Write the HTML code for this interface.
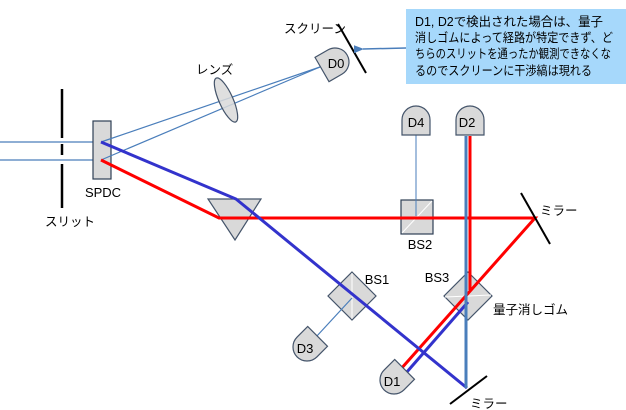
<!DOCTYPE html>
<html><head><meta charset="utf-8"><style>
html,body{margin:0;padding:0;background:#fff;}
svg{display:block;font-family:"Liberation Sans","Noto Sans CJK JP",sans-serif;}
</style></head><body>
<svg width="626" height="410" viewBox="0 0 626 410" xmlns="http://www.w3.org/2000/svg">
<defs>
<path id="det" d="M-14,15 L14,15 L14,0 A14,14 0 0 0 -14,0 Z" fill="#d9d9d9" stroke="#44546a" stroke-width="1.2"/>
<marker id="ah" markerWidth="10" markerHeight="8" refX="1" refY="4" orient="auto" markerUnits="userSpaceOnUse"><path d="M10,0 L0,4 L10,8 Z" fill="#4a7ebb"/></marker>
</defs>
<g stroke="#000" stroke-width="2.5">
<line x1="62" y1="89" x2="62" y2="138"/>
<line x1="62" y1="144" x2="62" y2="155"/>
<line x1="62" y1="164" x2="62" y2="208"/>
</g>
<line x1="0" y1="142" x2="101" y2="142" stroke="#4a7ebb" stroke-width="1.3"/>
<line x1="0" y1="160" x2="101" y2="160" stroke="#4a7ebb" stroke-width="1.3"/>
<rect x="93" y="121" width="18" height="58" fill="#d9d9d9" stroke="#2f3f55" stroke-width="1.2"/>
<line x1="101" y1="142" x2="320" y2="67" stroke="#4a7ebb" stroke-width="1.2"/>
<line x1="101" y1="160" x2="320" y2="67" stroke="#4a7ebb" stroke-width="1.2"/>
<ellipse cx="226" cy="100" rx="7" ry="24" transform="rotate(-24 226 100)" fill="#d9d9d9" fill-opacity="0.85" stroke="#44546a" stroke-width="1.2"/>
<polygon points="208,199 261,199 235,240" fill="#d9d9d9" stroke="#44546a" stroke-width="1.2"/>
<rect x="401" y="200" width="32" height="34" fill="#d9d9d9" stroke="#2f3f55" stroke-width="1.2"/>
<line x1="402" y1="233" x2="432" y2="201" stroke="#fff" stroke-width="1"/>
<polygon points="352,272 376,296 352,320 328,296" fill="#d9d9d9" stroke="#44546a" stroke-width="1.2"/>
<line x1="352" y1="273" x2="352" y2="319" stroke="#fff" stroke-width="1"/>
<polygon points="468,272 492,296 468,320 444,296" fill="#d9d9d9" stroke="#44546a" stroke-width="1.2"/>
<line x1="445" y1="297" x2="491" y2="295" stroke="#fff" stroke-width="1"/>
<line x1="416" y1="135" x2="416" y2="216" stroke="#4a7ebb" stroke-width="1"/>
<line x1="352" y1="298" x2="316" y2="337" stroke="#4a7ebb" stroke-width="1.2"/>
<g stroke="#ff0000" stroke-width="3" fill="none">
<polyline points="101,160 219,218 535,218 400,370"/>
<line x1="470" y1="290" x2="470" y2="136"/>
</g>
<g stroke="#3333cc" stroke-width="3" fill="none">
<polyline points="101,142 236,199 467,388"/>
<line x1="468" y1="302" x2="406" y2="373"/>
</g>
<line x1="466" y1="388" x2="466" y2="136" stroke="#4a7ebb" stroke-width="3"/>
<g stroke="#000" stroke-width="2">
<line x1="521" y1="193" x2="550" y2="244"/>
<line x1="450" y1="404" x2="487" y2="376"/>
<line x1="338" y1="24" x2="366" y2="73"/>
</g>
<use href="#det" transform="translate(416,120)"/>
<use href="#det" transform="translate(470,120)"/>
<use href="#det" transform="translate(335,62) rotate(60)"/>
<use href="#det" transform="translate(307,347) rotate(-135)"/>
<use href="#det" transform="translate(394,380) rotate(-135)"/>
<g font-size="13" fill="#000" text-anchor="middle">
<text x="416" y="127">D4</text>
<text x="467" y="127">D2</text>
<text x="336" y="68">D0</text>
<text x="305" y="353">D3</text>
<text x="392" y="386">D1</text>
<text x="103" y="197">SPDC</text>
<text x="420" y="249">BS2</text>
<text x="377" y="284">BS1</text>
<text x="437" y="282">BS3</text>
</g>
<g font-size="12.5" fill="#000">
<text x="45" y="226">スリット</text>
<text x="196" y="74">レンズ</text>
<text x="284" y="33">スクリーン</text>
<text x="540" y="215">ミラー</text>
<text x="470" y="408">ミラー</text>
<text x="493" y="314">量子消しゴム</text>
</g>
<rect x="406" y="9" width="220" height="75" fill="#a6d8fb"/>
<g font-size="12.5" fill="#000">
<text x="415" y="26" textLength="188" lengthAdjust="spacingAndGlyphs">D1, D2で検出された場合は、量子</text>
<text x="415" y="42" textLength="198" lengthAdjust="spacingAndGlyphs">消しゴムによって経路が特定できず、ど</text>
<text x="415" y="58" textLength="196" lengthAdjust="spacingAndGlyphs">ちらのスリットを通ったか観測できなくな</text>
<text x="415" y="75" textLength="177" lengthAdjust="spacingAndGlyphs">るのでスクリーンに干渉縞は現れる</text>
</g>
<line x1="406" y1="48" x2="363" y2="49" stroke="#4a7ebb" stroke-width="1.5" marker-end="url(#ah)"/>
</svg>
</body></html>
